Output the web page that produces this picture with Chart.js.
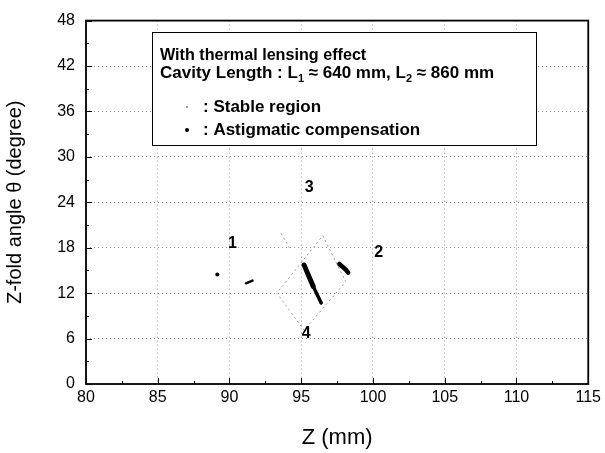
<!DOCTYPE html>
<html>
<head>
<meta charset="utf-8">
<script src="https://cdn.jsdelivr.net/npm/chart.js@4.4.1/dist/chart.umd.min.js"></script>
<style>
  html, body { margin: 0; padding: 0; background: #fff; }
  #wrap { width: 605px; height: 453px; }
</style>
</head>
<body>
<div id="wrap"><canvas id="chart" width="605" height="453"></canvas></div>
<script>
// ── Data ─────────────────────────────────────────────────────────
const zTicks = [80, 85, 90, 95, 100, 105, 110, 115];
const thetaTicks = [0, 6, 12, 18, 24, 30, 36, 42, 48];

// stable region outline (faint dotted diamond)
const stableZ = [96.5, 98.1, 95.2, 93.3, 96.5];
const stableTheta = [19.6, 13.5, 7.1, 12.0, 19.6];
// short boundary piece above region 1/3
const edgeZ = [93.6, 94.2];
const edgeTheta = [19.9, 17.9];

// astigmatic compensation marks
const astigDotZ = [89.15];
const astigDotTheta = [14.45];
const astigAZ = [91.15, 91.6];
const astigATheta = [13.3, 13.65];
const astigBZ = [95.2, 95.83, 96.39];
const astigBTheta = [15.7, 12.9, 10.7];
const astigCZ = [97.65, 98.1, 98.27];
const astigCTheta = [15.85, 15.1, 14.7];

// region numbers
const regionNames = ["1", "2", "3", "4"];
const regionZ = [90.2, 100.4, 95.55, 95.35];
const regionTheta = [18.5, 17.4, 25.9, 6.6];

const FONT = "'Liberation Sans', Arial, Helvetica, sans-serif";

const pts = (xs, ys) => xs.map((x, i) => ({ x, y: ys[i] }));

// ── Inward ticks + frame ─────────────────────────────────────────
const frameTicks = {
  id: "frameTicks",
  afterDatasetsDraw(chart) {
    const { ctx, chartArea: a, scales: { x, y } } = chart;
    ctx.save();
    ctx.strokeStyle = "#000";
    ctx.lineWidth = 1;
    ctx.beginPath();
    zTicks.forEach((v, i) => {
      const px = Math.round(x.getPixelForValue(v)) + 0.5;
      ctx.moveTo(px, a.bottom); ctx.lineTo(px, a.bottom - 6);
      if (i < zTicks.length - 1) {
        const mx = Math.round(x.getPixelForValue(v + 2.5)) + 0.5;
        ctx.moveTo(mx, a.bottom); ctx.lineTo(mx, a.bottom - 3);
      }
    });
    thetaTicks.forEach((v, i) => {
      const py = Math.round(y.getPixelForValue(v)) + 0.5;
      ctx.moveTo(a.left, py); ctx.lineTo(a.left + 6, py);
      if (i < thetaTicks.length - 1) {
        const my = Math.round(y.getPixelForValue(v + 3)) + 0.5;
        ctx.moveTo(a.left, my); ctx.lineTo(a.left + 3, my);
      }
    });
    ctx.stroke();
    ctx.lineWidth = 1.8;
    ctx.strokeRect(a.left, a.top, a.width, a.height);
    ctx.restore();
  }
};

// ── Region numbers ───────────────────────────────────────────────
const regionLabels = {
  id: "regionLabels",
  afterDatasetsDraw(chart) {
    const { ctx, scales: { x, y } } = chart;
    ctx.save();
    ctx.fillStyle = "#000";
    ctx.font = "bold 16px " + FONT;
    ctx.textAlign = "center";
    ctx.textBaseline = "middle";
    regionNames.forEach((t, i) => {
      ctx.fillText(t, x.getPixelForValue(regionZ[i]), y.getPixelForValue(regionTheta[i]));
    });
    ctx.restore();
  }
};

// ── Legend box (text block in the upper left) ────────────────────
// runs of bold text, optional subscripts, squeezed horizontally by sx
function drawRuns(ctx, x, y, runs, size, sx = 1) {
  ctx.save();
  ctx.translate(x, y);
  ctx.scale(sx, 1);
  let cx = 0;
  runs.forEach(r => {
    const s = r.sub ? Math.round(size * 0.62) : size;
    ctx.font = `bold ${s}px ${FONT}`;
    ctx.fillText(r.t, cx, r.sub ? 4 : 0);
    cx += ctx.measureText(r.t).width;
  });
  ctx.restore();
}

const legendBox = {
  id: "legendBox",
  afterDraw(chart) {
    const ctx = chart.ctx;
    ctx.save();
    ctx.fillStyle = "#fff";
    ctx.fillRect(152, 32, 384, 113);
    ctx.strokeStyle = "#000";
    ctx.lineWidth = 1;
    ctx.strokeRect(152.5, 32.5, 384, 113);

    ctx.fillStyle = "#000";
    ctx.textAlign = "left";
    ctx.textBaseline = "alphabetic";
    drawRuns(ctx, 160, 60, [{ t: "With thermal lensing effect" }], 17, 0.95);
    drawRuns(ctx, 160, 78, [
      { t: "Cavity Length : L" }, { t: "1", sub: true },
      { t: " \u2248 640 mm, L" }, { t: "2", sub: true },
      { t: " \u2248 860 mm" }
    ], 17);
    drawRuns(ctx, 203, 112, [{ t: ": Stable region" }], 17);
    drawRuns(ctx, 203, 135, [{ t: ": Astigmatic compensation" }], 17);

    ctx.fillStyle = "#888";
    ctx.beginPath(); ctx.arc(187, 107, 1, 0, Math.PI * 2); ctx.fill();
    ctx.fillStyle = "#000";
    ctx.beginPath(); ctx.arc(187, 130, 2, 0, Math.PI * 2); ctx.fill();
    ctx.restore();
  }
};

// ── Chart ────────────────────────────────────────────────────────
const thinLine = (data) => ({
  data, showLine: true, pointRadius: 0,
  borderColor: "#9a9a9a", borderWidth: 1, borderDash: [2, 3]
});
const thickLine = (data, w) => ({
  data, showLine: true, pointRadius: 0,
  borderColor: "#000", borderWidth: w, borderCapStyle: "round"
});

new Chart(document.getElementById("chart"), {
  type: "scatter",
  data: {
    datasets: [
      thinLine(pts(stableZ, stableTheta)),
      thinLine(pts(edgeZ, edgeTheta)),
      { data: pts(astigDotZ, astigDotTheta), pointRadius: 2, pointBackgroundColor: "#000", pointBorderWidth: 0 },
      thickLine(pts(astigAZ, astigATheta), 2.5),
      Object.assign(thickLine(pts(astigBZ, astigBTheta), 4.5), {
        segment: { borderWidth: c => c.p0DataIndex === 0 ? 5 : 3.5 }
      }),
      thickLine(pts(astigCZ, astigCTheta), 4.5)
    ]
  },
  options: {
    responsive: false,
    animation: false,
    layout: { padding: { top: 15, right: 16, left: 0, bottom: 0 } },
    plugins: { legend: { display: false }, tooltip: { enabled: false } },
    scales: {
      x: {
        type: "linear", min: 80, max: 115,
        afterBuildTicks: s => { s.ticks = zTicks.map(v => ({ value: v })); },
        afterFit: s => { s.height = 69; },
        grid: { color: "#999", lineWidth: 1, drawTicks: false },
        border: { display: false, dash: [1, 3] },
        ticks: { color: "#000", padding: 4, maxRotation: 0, font: { family: FONT, size: 16 } },
        title: { display: true, text: "Z (mm)", color: "#000", padding: 2, font: { family: FONT, size: 22 } }
      },
      y: {
        type: "linear", min: 0, max: 48,
        afterBuildTicks: s => { s.ticks = thetaTicks.map(v => ({ value: v })); },
        afterFit: s => { s.width = 86; },
        grid: { color: "#999", lineWidth: 1, drawTicks: false },
        border: { display: false, dash: [1, 3] },
        ticks: { color: "#000", padding: 11, font: { family: FONT, size: 16 } },
        title: { display: true, text: "Z-fold angle \u03B8 (degree)", color: "#000", padding: 3, font: { family: FONT, size: 20 } }
      }
    }
  },
  plugins: [frameTicks, regionLabels, legendBox]
});
</script>
</body>
</html>
